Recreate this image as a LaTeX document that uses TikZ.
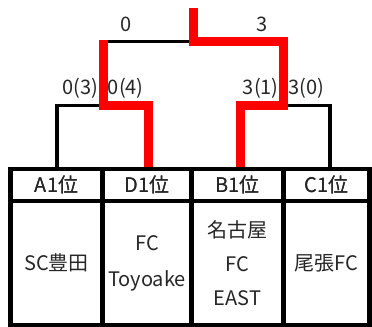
\documentclass[tikz,border=0pt]{standalone}
\usepackage{fontspec}
\setmainfont{Noto Sans CJK JP}
\usepackage{tikz}
\usetikzlibrary{positioning}

\begin{document}
\begin{tikzpicture}
	[x=0.75pt, y=-0.75pt, inner sep=0pt, outer sep=0pt,
	font=\fontsize{15}{18}\selectfont, text=black!85,
	cell/.style	= {rectangle, draw=black, line width=3.4pt, inner sep=0pt},
	head/.style	= {cell, minimum height=24pt},
	team/.style	= {cell, minimum height=93pt, align=center, font=\fontsize{15}{25.5}\selectfont},
	loser/.style	= {draw=black, line width=2.4pt},
	winner/.style	= {draw=red, line width=6.75pt},
	score/.style	= {draw=none}]
	
	\useasboundingbox (0,0) rectangle (372,327);
	
	% bracket joints
	\coordinate (sfL) at (103.5,105.3);
	\coordinate (sfR) at (283.8,105.3);
	\coordinate (fT)  at (193.5,41.5);
	\coordinate (fL)  at (103.5,40);
	\coordinate (cT)  at (193.5,8);
	
	% header cells
	\node at (56.5,185)	[head, minimum width=69pt]	(hA)	{A1位};
	\node at (147,185)	[head, minimum width=66.75pt]	(hD)	{D1位};
	\node at (237.5,185)	[head, minimum width=69pt]	(hB)	{B1位};
	\node at (326.5,185)	[head, minimum width=64.5pt]	(hC)	{C1位};
	
	% bracket
	\draw [loser] ([xshift=0.4pt]hA.north) |- (sfL);
	\draw [loser] (sfL |- fT) -- (fT);
	\draw [loser] (sfR) -| ([xshift=2.6pt]hC.north);
	
	\draw [winner] (fL) -- (sfL) -| ([xshift=1.1pt]hD.north);
	\draw [winner] (cT) -- (fT) -| (sfR) -| ([xshift=1.9pt]hB.north);
	
	% redraw header cells over the bracket ends
	\node at (hA) [head, minimum width=69pt]	{A1位};
	\node at (hD) [head, minimum width=66.75pt]	{D1位};
	\node at (hB) [head, minimum width=69pt]	{B1位};
	\node at (hC) [head, minimum width=64.5pt]	{C1位};
	
	% team cells
	\node at (56.5,263)	[team, minimum width=69pt]	(tA)	{SC豊田};
	\node at (147,263)	[team, minimum width=66.75pt, font=\fontsize{15}{27}\selectfont]	(tD)	{FC\\Toyoake};
	\node at (237.5,263)	[team, minimum width=69pt]	(tB)	{名古屋\\FC\\EAST};
	\node at (326.5,263)	[team, minimum width=64.5pt]	(tC)	{尾張FC};
	
	% scores
	\node at (126,24)	[score]	(sF1)	{0};
	\node at (262,24)	[score]	(sF2)	{3};
	\node at (80.5,88.5)	[score]	(sA)	{0(3)};
	\node at (125.8,88.5)	[score]	(sD)	{0(4)};
	\node at (260.8,88.5)	[score]	(sB)	{3(1)};
	\node at (306,88.5)	[score]	(sC)	{3(0)};
\end{tikzpicture}
\end{document}
